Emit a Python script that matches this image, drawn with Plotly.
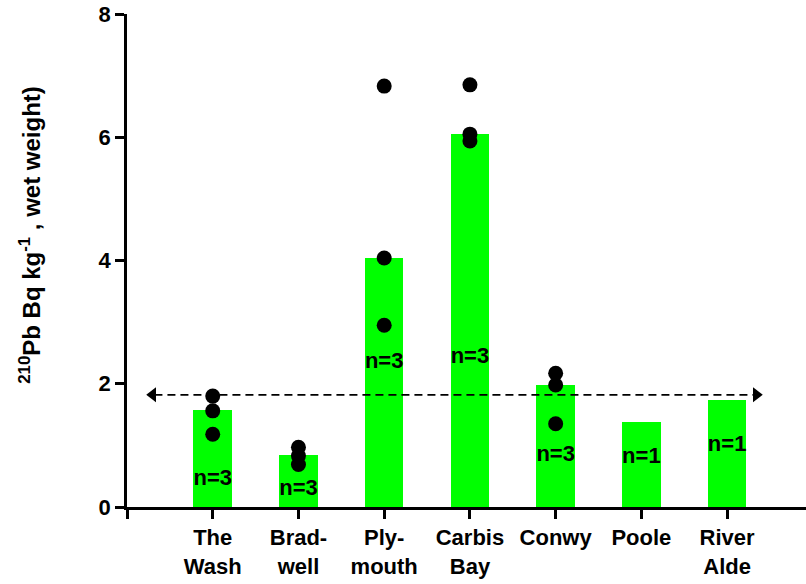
import plotly.graph_objects as go

sites = ["The<br>Wash", "Brad-<br>well", "Ply-<br>mouth", "Carbis<br>Bay", "Conwy", "Poole", "River<br>Alde"]
means = [1.57, 0.84, 4.04, 6.05, 1.98, 1.38, 1.74]
samples = [
    [1.80, 1.56, 1.18],
    [0.97, 0.83, 0.69],
    [6.83, 4.04, 2.95],
    [6.85, 6.05, 5.94],
    [2.17, 1.98, 1.35],
    [],
    [],
]
n_labels = ["n=3", "n=3", "n=3", "n=3", "n=3", "n=1", "n=1"]
reference_level = 1.82
y_ticks = [0, 2, 4, 6, 8]

# label placement (layout, not data)
label_y = [0.44, 0.28, 2.35, 2.42, 0.84, 0.81, 1.0]

xpos = list(range(1, len(sites) + 1))
font = "Liberation Sans, Arial, sans-serif"

fig = go.Figure()
fig.add_trace(go.Bar(x=xpos, y=means, width=0.45, marker=dict(color="#00ff00", line=dict(width=0)),
                     showlegend=False, hoverinfo="skip"))

px, py = [], []
for i, vals in enumerate(samples):
    for v in vals:
        px.append(xpos[i]); py.append(v)
fig.add_trace(go.Scatter(x=px, y=py, mode="markers", marker=dict(color="black", size=15),
                         showlegend=False))

fig.add_trace(go.Scatter(x=xpos, y=label_y, mode="text", text=n_labels,
                         texttemplate="<b>%{text}</b>",
                         textfont=dict(family=font, size=22, color="black"), showlegend=False))

# dashed reference line with arrowheads
x0, x1 = 0.22, 7.42
fig.add_shape(type="line", x0=x0 + 0.1, x1=x1 - 0.1, y0=reference_level, y1=reference_level,
              line=dict(color="black", width=1.6, dash="8px,5px"), layer="above")
fig.add_trace(go.Scatter(x=[x0 + 0.08, x1 - 0.08], y=[reference_level, reference_level], mode="markers",
                         marker=dict(symbol=["triangle-left", "triangle-right"], size=13, color="black"),
                         showlegend=False))

fig.update_layout(
    width=806, height=584,
    margin=dict(l=127, r=0, t=14, b=77),
    plot_bgcolor="white", paper_bgcolor="white",
    font=dict(family=font, size=18, color="black"),
    bargap=0,
)
fig.update_xaxes(range=[0, 7.92], tickmode="array", tickvals=[0] + xpos,
                 ticktext=[" "] + [f"<b>{s}</b>" for s in sites],
                 showline=True, linecolor="black", linewidth=2.5, ticks="outside", ticklen=9, tickwidth=2.5,
                 tickcolor="black", showgrid=False, zeroline=False,
                 tickfont=dict(family=font, size=22, color="black"))
fig.update_yaxes(range=[0, 8], tickmode="array", tickvals=y_ticks, ticktext=[f"<b>{t}</b>" for t in y_ticks],
                 showline=True, linecolor="black", linewidth=2.5, ticks="outside", ticklen=9, tickwidth=2.5,
                 tickcolor="black", showgrid=False, zeroline=False,
                 tickfont=dict(family=font, size=22, color="black"))

fig.add_annotation(text="<b><sup>210</sup>Pb Bq kg<sup>-1</sup> , wet weight)</b>",
                   xref="paper", yref="paper", x=-0.143, y=0.552, xanchor="center", yanchor="middle",
                   textangle=-90, showarrow=False,
                   font=dict(family=font, size=24, color="black"))
fig.write_html("out.html")
